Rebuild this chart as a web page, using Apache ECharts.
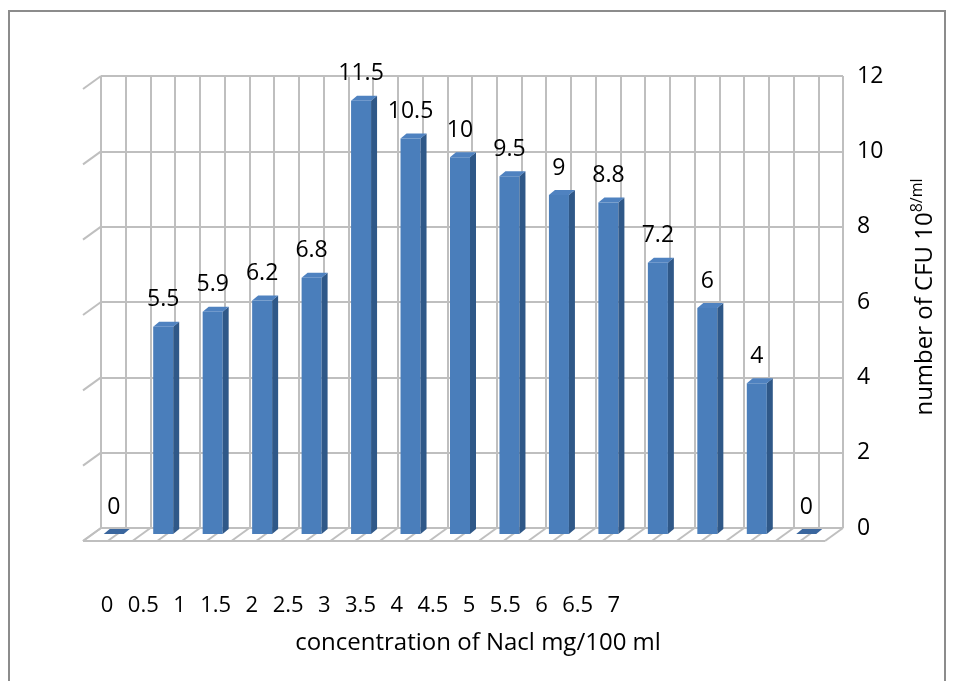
<!DOCTYPE html>
<html>
<head>
<meta charset="utf-8">
<script src="https://cdn.jsdelivr.net/npm/echarts@6/dist/echarts.min.js"></script>
<style>
  html, body { margin: 0; padding: 0; background: #fff; }
  #chart { width: 957px; height: 681px; }
</style>
</head>
<body>
<div id="chart"></div>
<script>
// NaCl concentration vs CFU count (pseudo 3D column chart)
const concentrations = ['0', '0.5', '1', '1.5', '2', '2.5', '3', '3.5', '4', '4.5', '5', '5.5', '6', '6.5', '7'];
const cfuValues = [0, 5.5, 5.9, 6.2, 6.8, 11.5, 10.5, 10, 9.5, 9, 8.8, 7.2, 6, 4, 0];
const yTicks = [0, 2, 4, 6, 8, 10, 12];

const FONT = '"Open Sans", sans-serif';
const GRID_COLOR = '#bfbfbf';
// depth offsets for the fake 3D look
const FLOOR_DX = -18, FLOOR_DY = 13;
const BAR_DX = -12, BAR_DY = 6;
const BAR_W = 20, SIDE_DX = 6, SIDE_DY = -5;

// bars sit in the middle of each pair of wall columns: x = 2i + 1
const barData = cfuValues.map((v, i) => [2 * i + 1, v]);
const floorLines = [];
for (let k = 0; k <= 30; k++) floorLines.push([k, 0]);

function renderBar(params, api) {
  const top = api.coord([api.value(0), api.value(1)]);
  const base = api.coord([api.value(0), 0]);
  const cx = top[0] + BAR_DX;
  const ty = top[1] + BAR_DY;
  const by = base[1] + BAR_DY;
  const l = cx - BAR_W / 2, r = cx + BAR_W / 2;
  return {
    type: 'group',
    children: [
      { type: 'rect', shape: { x: l, y: ty, width: BAR_W, height: by - ty },
        style: { fill: '#4a7ebb' } },
      { type: 'polygon', shape: { points: [[r, ty], [r + SIDE_DX, ty + SIDE_DY], [r + SIDE_DX, by + SIDE_DY], [r, by]] },
        style: { fill: '#2f5888' } },
      { type: 'polygon', shape: { points: [[l, ty], [l + SIDE_DX, ty + SIDE_DY], [r + SIDE_DX, ty + SIDE_DY], [r, ty]] },
        style: { fill: api.value(1) === 0 ? '#3a669e' : '#4f82c0' } },
      { type: 'text', style: { text: String(api.value(1)), x: cx, y: ty - 27,
        align: 'center', verticalAlign: 'middle', fontSize: 23, fontFamily: FONT, fill: '#000' } }
    ]
  };
}

function renderSideTicks(params, api) {
  const p = api.coord([0, api.value(0)]);
  return { type: 'line', shape: { x1: p[0], y1: p[1], x2: p[0] + FLOOR_DX, y2: p[1] + FLOOR_DY },
    style: { stroke: GRID_COLOR, lineWidth: 2 } };
}

function renderFloor(params, api) {
  const p = api.coord([api.value(0), 0]);
  const children = [{ type: 'line', shape: { x1: p[0], y1: p[1], x2: p[0] + FLOOR_DX, y2: p[1] + FLOOR_DY },
    style: { stroke: GRID_COLOR, lineWidth: 2 } }];
  if (params.dataIndex === 0) {
    const q = api.coord([30, 0]);
    children.push({ type: 'line', shape: { x1: p[0] + FLOOR_DX, y1: p[1] + FLOOR_DY, x2: q[0] + FLOOR_DX, y2: q[1] + FLOOR_DY },
      style: { stroke: GRID_COLOR, lineWidth: 2 } });
  }
  return { type: 'group', children };
}

const chart = echarts.init(document.getElementById('chart'));
chart.setOption({
  animation: false,
  backgroundColor: '#fff',
  textStyle: { fontFamily: FONT },
  graphic: [{ type: 'rect', shape: { x: 9, y: 11, width: 936, height: 690 },
    style: { fill: 'none', stroke: '#8c8c8c', lineWidth: 2 }, silent: true }],
  grid: [
    { left: 101, right: 114, top: 76, bottom: 153 },
    { left: 89, width: 543, top: 580, height: 10 }
  ],
  xAxis: [
    {
      type: 'value', gridIndex: 0, min: 0, max: 30, interval: 1,
      axisLine: { show: false }, axisTick: { show: false }, axisLabel: { show: false },
      splitLine: { show: true, lineStyle: { color: GRID_COLOR, width: 2 } },
      name: 'concentration of Nacl mg/100 ml', nameLocation: 'middle', nameGap: 103,
      nameTextStyle: { fontSize: 24, color: '#000', fontFamily: FONT, padding: [0, 0, 0, 12] }
    },
    {
      type: 'category', gridIndex: 1, data: concentrations,
      axisLine: { show: false }, axisTick: { show: false },
      axisLabel: { fontSize: 22, color: '#000', margin: 5, fontFamily: FONT, interval: 0 }
    }
  ],
  yAxis: [
    {
      type: 'value', gridIndex: 0, min: 0, max: 12, interval: 2, position: 'right',
      axisLine: { show: false }, axisTick: { show: false },
      axisLabel: { fontSize: 23, color: '#000', margin: 14, fontFamily: FONT },
      splitLine: { show: true, lineStyle: { color: GRID_COLOR, width: 2 } },
      name: '{a|number of CFU 10}{s|8/ml}', nameLocation: 'middle', nameGap: 66, nameRotate: 90,
      nameTextStyle: {
        color: '#000',
        padding: [0, 0, 0, 10],
        rich: {
          a: { fontSize: 24, fontFamily: FONT, color: '#000', lineHeight: 32 },
          s: { fontSize: 16, fontFamily: FONT, color: '#000', verticalAlign: 'top', lineHeight: 32, padding: [0, 0, 12, 0] }
        }
      }
    },
    { type: 'value', gridIndex: 1, show: false }
  ],
  series: [
    { type: 'custom', name: 'floor', xAxisIndex: 0, yAxisIndex: 0, data: floorLines, renderItem: renderFloor, silent: true, z: 1 },
    { type: 'custom', name: 'side', xAxisIndex: 0, yAxisIndex: 0, data: yTicks.map(v => [v]), renderItem: renderSideTicks,
      encode: { y: 0 }, silent: true, z: 1 },
    { type: 'custom', name: 'CFU', xAxisIndex: 0, yAxisIndex: 0, data: barData, renderItem: renderBar, z: 3 }
  ]
});
</script>
</body>
</html>
